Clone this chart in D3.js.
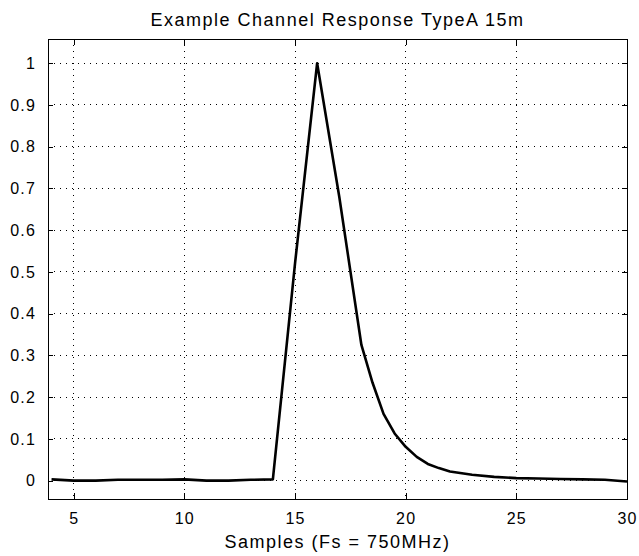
<!DOCTYPE html>
<html>
<head>
<meta charset="utf-8">
<script src="https://cdn.jsdelivr.net/npm/d3@7"></script>
<style>
  html, body { margin: 0; padding: 0; background: #fff; }
  svg { display: block; }
  text { font-family: "Liberation Sans", Arial, sans-serif; fill: #000; }
</style>
</head>
<body>
<svg id="chart" width="639" height="556"></svg>
<script>
// ---- data ----
const samples = [4, 5, 6, 7, 8, 9, 10, 11, 12, 13, 14, 15, 16, 17, 18, 18.5, 19, 19.5, 20, 20.5, 21, 21.5, 22, 23, 24, 25, 26, 27, 28, 29, 30];
const response = [0.003, 0.0, 0.0, 0.002, 0.002, 0.002, 0.003, 0.0, 0.0, 0.002, 0.003, 0.52, 1.0, 0.68, 0.325, 0.235, 0.16, 0.113, 0.081, 0.057, 0.04, 0.03, 0.022, 0.014, 0.009, 0.006, 0.005, 0.004, 0.003, 0.002, -0.002];
const xTicks = [5, 10, 15, 20, 25, 30];
const yTicks = [0, 0.1, 0.2, 0.3, 0.4, 0.5, 0.6, 0.7, 0.8, 0.9, 1];
const xDomain = [3.84, 30];
const yDomain = [-0.044, 1.058];
const titleText = "Example Channel Response TypeA 15m";
const xLabelText = "Samples (Fs = 750MHz)";

// ---- layout ----
const L = 48, R = 627, T = 39, B = 499;
const svg = d3.select("#chart");
const x = d3.scaleLinear().domain(xDomain).range([L, R]);
const y = d3.scaleLinear().domain(yDomain).range([B, T]);

// grid
const grid = svg.append("g");
grid.selectAll("line.vx").data(xTicks).join("line")
  .attr("x1", d => x(d)).attr("x2", d => x(d))
  .attr("y1", T).attr("y2", B)
  .attr("stroke", "#000").attr("stroke-width", 1)
  .attr("stroke-dasharray", "1,5").attr("shape-rendering", "crispEdges");
grid.selectAll("line.hy").data(yTicks).join("line")
  .attr("x1", L).attr("x2", R)
  .attr("y1", d => y(d)).attr("y2", d => y(d))
  .attr("stroke", "#000").attr("stroke-width", 1)
  .attr("stroke-dasharray", "1,5").attr("shape-rendering", "crispEdges");

// axes with inward ticks
const fmt = d => d3.format("")(d);
const axB = svg.append("g").attr("transform", `translate(0,${B})`)
  .call(d3.axisBottom(x).tickValues(xTicks).tickSize(-6).tickPadding(14).tickFormat(fmt));
const axT = svg.append("g").attr("transform", `translate(0,${T})`)
  .call(d3.axisTop(x).tickValues(xTicks).tickSize(-6).tickFormat(""));
const axL = svg.append("g").attr("transform", `translate(${L},0)`)
  .call(d3.axisLeft(y).tickValues(yTicks).tickSize(-5).tickPadding(12).tickFormat(fmt));
const axRt = svg.append("g").attr("transform", `translate(${R},0)`)
  .call(d3.axisRight(y).tickValues(yTicks).tickSize(-5).tickFormat(""));
[axB, axT, axL, axRt].forEach(g => {
  g.select(".domain").remove();
  g.selectAll(".tick line").attr("stroke", "#000").attr("shape-rendering", "crispEdges");
  g.selectAll(".tick text").attr("font-size", 16).attr("font-family", "Liberation Sans, Arial, sans-serif")
    .attr("letter-spacing", 1.2).attr("fill", "#000");
});

// box
svg.append("rect").attr("x", L).attr("y", T).attr("width", R - L).attr("height", B - T)
  .attr("fill", "none").attr("stroke", "#000").attr("stroke-width", 1).attr("shape-rendering", "crispEdges");

// line
const pts = samples.map((s, i) => [s, response[i]]);
svg.append("path").datum(pts)
  .attr("fill", "none").attr("stroke", "#000").attr("stroke-width", 2.6)
  .attr("stroke-linejoin", "round")
  .attr("d", d3.line().x(d => x(d[0])).y(d => y(d[1])));

// title & label
svg.append("text").attr("x", (L + R) / 2).attr("y", 26).attr("text-anchor", "middle")
  .attr("font-size", 18).attr("letter-spacing", 1.5).text(titleText);
svg.append("text").attr("x", (L + R) / 2).attr("y", 548).attr("text-anchor", "middle")
  .attr("font-size", 18).attr("letter-spacing", 1.5).text(xLabelText);
</script>
</body>
</html>
